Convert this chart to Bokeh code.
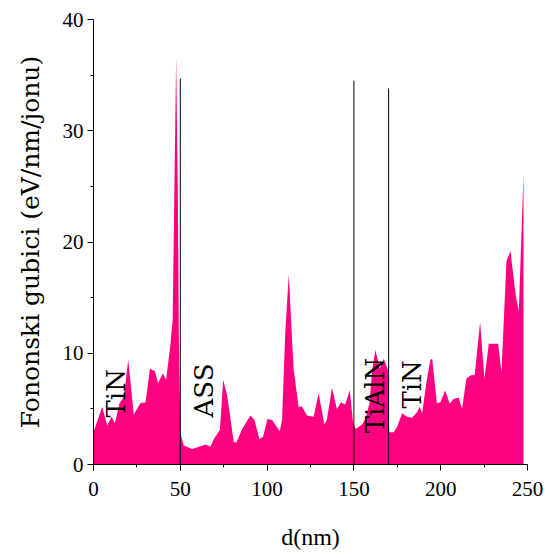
import math
from bokeh.plotting import figure
from bokeh.models import Range1d, FixedTicker
from bokeh.embed import file_html
from bokeh.resources import INLINE
from bokeh.core.properties import value

# depth (nm) and phonon losses (eV/nm/ion)
depth = [0, 5.0, 7.9, 10.4, 12.3, 15.0, 17.5, 20.0, 23.2, 27.0, 30.0, 32.5, 35.3, 37.2,
         39.9, 41.8, 44.2, 45.6, 47.6, 48.6, 49.2, 50.1, 52.0, 56.8, 60.7, 64.5, 67.4,
         69.3, 72.8, 74.7, 77.0, 80.8, 82.4, 85.6, 90.4, 92.7, 95.6, 97.7, 100.2, 102.9,
         107.3, 108.6, 110.5, 112.5, 115.2, 118.1, 120.1, 123.0, 126.8, 129.7, 133.0,
         134.4, 137.4, 140.2, 142.6, 145.0, 147.6, 149.5, 151.0, 154.7, 156.6, 159.0,
         160.5, 162.4, 164.9, 167.2, 169.6, 170.3, 173.0, 174.9, 177.8, 180.6, 183.5,
         186.4, 187.9, 189.3, 191.7, 194.0, 195.1, 197.8, 199.8, 202.6, 205.2, 207.5,
         210.4, 212.3, 214.8, 217.1, 219.6, 222.7, 225.2, 227.7, 233.1, 235.0, 237.9,
         240.2, 243.1, 245.0, 247.7]
loss = [2.9, 5.2, 3.5, 4.3, 3.7, 5.5, 6.1, 9.4, 4.5, 5.5, 5.6, 8.6, 8.4, 7.3,
        8.2, 7.6, 10.6, 13.0, 36.6, 24.0, 11.0, 2.8, 1.7, 1.4, 1.6, 1.8, 1.6,
        2.3, 3.1, 7.6, 6.2, 2.0, 2.0, 3.2, 4.4, 4.0, 2.3, 2.5, 4.1, 4.0,
        3.0, 4.0, 12.0, 17.1, 8.7, 5.2, 5.2, 4.4, 4.3, 6.4, 3.6,
        4.0, 6.9, 5.0, 5.6, 5.4, 6.7, 3.8, 3.2, 3.6, 4.1, 5.5,
        8.5, 10.3, 8.6, 9.5, 8.5, 2.9, 2.9, 3.4, 4.6, 4.3, 4.2,
        4.7, 5.2, 4.6, 7.3, 9.4, 9.5, 5.5, 5.6, 6.65, 5.45, 5.9,
        6.0, 5.0, 7.7, 8.0, 8.06, 12.8, 7.7, 10.85, 10.85, 8.3, 18.3,
        19.2, 15.3, 13.8, 26.1]

# layer boundaries
boundary_x = [50, 150, 170]
boundary_top = [34.7, 34.5, 33.8]
boundary_base = [0, 0, 0]

# layer names
layer_names = ["TiN", "ASS", "TiAlN", "TiN"]
layer_x = [12.7, 63.9, 161.9, 183.5]
layer_y = [6.4, 6.65, 6.2, 7.2]

x_ticks = [0, 50, 100, 150, 200, 250]
x_minor = [25, 75, 125, 175, 225]
y_ticks = [0, 10, 20, 30, 40]
y_minor = [5, 15, 25, 35]

ROT_FONT = "DejaVu Serif"
FLAT_FONT = "Liberation Serif"

p = figure(width=545, height=556, output_backend="svg", toolbar_location=None,
           x_range=Range1d(0, 250), y_range=Range1d(0, 40),
           min_border_left=93, min_border_right=18, min_border_top=19,
           min_border_bottom=92)
p.outline_line_color = None
p.xgrid.visible = False
p.ygrid.visible = False
p.background_fill_color = "white"

p.varea(x=depth, y1=[0] * len(depth), y2=loss, fill_color="#ff0080", fill_alpha=1.0)
p.segment(x0=boundary_x, y0=boundary_base, x1=boundary_x, y1=boundary_top,
          line_color="black", line_width=1)
p.text(x=layer_x, y=layer_y, text=layer_names, angle=math.pi / 2,
       text_font=value(ROT_FONT), text_font_size="26px", text_color="black",
       text_align="center", text_baseline="middle")

for ax in (p.xaxis, p.yaxis):
    ax.axis_line_color = "black"
    ax.major_tick_line_color = "black"
    ax.minor_tick_line_color = "black"
    ax.major_label_text_font = FLAT_FONT
    ax.major_label_text_font_size = "21px"
    ax.major_label_text_color = "black"
    ax.axis_label_text_font_style = "normal"
    ax.axis_label_text_color = "black"
    ax.major_tick_in = 0
    ax.major_tick_out = 6
    ax.minor_tick_in = 0
    ax.minor_tick_out = 3

p.xaxis.ticker = FixedTicker(ticks=x_ticks, minor_ticks=x_minor)
p.yaxis.ticker = FixedTicker(ticks=y_ticks, minor_ticks=y_minor)
p.xaxis.axis_label = "d(nm)"
p.yaxis.axis_label = "Fononski gubici (eV/nm/jonu)"
p.xaxis.axis_label_text_font = FLAT_FONT
p.xaxis.axis_label_text_font_size = "24px"
p.yaxis.axis_label_text_font = ROT_FONT
p.yaxis.axis_label_text_font_size = "25px"
p.xaxis.major_label_standoff = 11
p.xaxis.axis_label_standoff = 25
p.yaxis.major_label_standoff = 4
p.yaxis.axis_label_standoff = 15

open("out.html", "w").write(file_html(p, INLINE))
